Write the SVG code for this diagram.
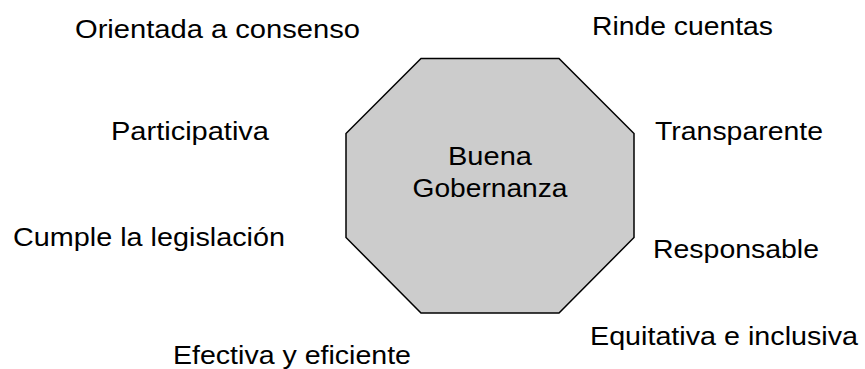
<svg xmlns="http://www.w3.org/2000/svg" width="865" height="369" viewBox="0 0 865 369">
<style>
text{font-family:"Liberation Sans",Arial,sans-serif;font-size:26.5px;fill:#000}
.c{text-anchor:middle}
</style>
<rect width="865" height="369" fill="#fff"/>
<g id="connectors"></g>
<g id="center">
<polygon points="421,58.5 559,58.5 634,133.5 634,237.5 559,313 421,313 346,237.5 346,133.5" fill="#cccccc" stroke="#000" stroke-width="1.5" stroke-linejoin="miter"/>
<text class="c" x="490" y="165" textLength="84" lengthAdjust="spacingAndGlyphs">Buena</text>
<text class="c" x="490" y="197" textLength="155" lengthAdjust="spacingAndGlyphs">Gobernanza</text>
</g>
<g id="n1"><text x="75" y="38" textLength="285" lengthAdjust="spacingAndGlyphs">Orientada a consenso</text></g>
<g id="n2"><text x="592" y="35" textLength="181" lengthAdjust="spacingAndGlyphs">Rinde cuentas</text></g>
<g id="n3"><text x="111" y="140" textLength="158" lengthAdjust="spacingAndGlyphs">Participativa</text></g>
<g id="n4"><text x="655" y="140" textLength="168" lengthAdjust="spacingAndGlyphs">Transparente</text></g>
<g id="n5"><text x="13" y="246" textLength="272" lengthAdjust="spacingAndGlyphs">Cumple la legislación</text></g>
<g id="n6"><text x="653" y="258" textLength="166" lengthAdjust="spacingAndGlyphs">Responsable</text></g>
<g id="n7"><text x="590" y="345" textLength="268" lengthAdjust="spacingAndGlyphs">Equitativa e inclusiva</text></g>
<g id="n8"><text x="173" y="364" textLength="238" lengthAdjust="spacingAndGlyphs">Efectiva y eficiente</text></g>
</svg>
